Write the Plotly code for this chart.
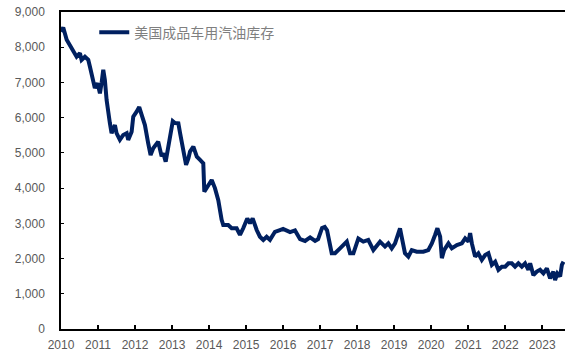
import plotly.graph_objects as go

# US motor gasoline (finished) inventory, read at turning points
dates = [
    "2010-01-01", "2010-01-23", "2010-02-26", "2010-03-30", "2010-05-01", "2010-06-04",
    "2010-07-07", "2010-07-23", "2010-08-25", "2010-09-27", "2010-10-13", "2010-11-15",
    "2010-12-01", "2010-12-28", "2011-01-20", "2011-02-06", "2011-02-22", "2011-03-10",
    "2011-03-27", "2011-04-28", "2011-05-15", "2011-06-17", "2011-07-03", "2011-08-05",
    "2011-09-07", "2011-10-11", "2011-10-26", "2011-11-29", "2011-12-15", "2012-01-17",
    "2012-02-12", "2012-03-07", "2012-04-08", "2012-05-10", "2012-06-03", "2012-06-29",
    "2012-08-01", "2012-08-17", "2012-09-20", "2012-10-06", "2012-10-30", "2012-11-24",
    "2012-12-18", "2013-01-08", "2013-01-30", "2013-03-04", "2013-03-21", "2013-04-22",
    "2013-05-19", "2013-06-11", "2013-06-27", "2013-07-30", "2013-09-02", "2013-10-04",
    "2013-11-05", "2013-11-15", "2013-12-24", "2014-01-27", "2014-02-28", "2014-04-02",
    "2014-05-05", "2014-05-21", "2014-07-09", "2014-08-12", "2014-09-30", "2014-11-02",
    "2014-12-04", "2015-01-13", "2015-02-09", "2015-03-07", "2015-04-16", "2015-05-18",
    "2015-06-20", "2015-07-23", "2015-08-25", "2015-10-13", "2015-12-01", "2016-01-01",
    "2016-03-10", "2016-04-28", "2016-06-17", "2016-08-05", "2016-09-24", "2016-11-12",
    "2016-12-12", "2017-01-20", "2017-02-15", "2017-03-10", "2017-04-25", "2017-05-28",
    "2017-07-16", "2017-09-21", "2017-10-23", "2017-11-25", "2018-01-13", "2018-03-03",
    "2018-04-21", "2018-06-10", "2018-08-15", "2018-10-03", "2018-11-05", "2018-12-08",
    "2019-01-10", "2019-02-12", "2019-02-28", "2019-03-16", "2019-04-18", "2019-05-21",
    "2019-06-24", "2019-08-12", "2019-10-16", "2019-12-04", "2020-01-08", "2020-02-09",
    "2020-03-03", "2020-03-30", "2020-04-16", "2020-05-08", "2020-06-20", "2020-07-23",
    "2020-09-11", "2020-10-30", "2020-12-02", "2021-01-04", "2021-01-20", "2021-02-06",
    "2021-03-10", "2021-04-11", "2021-05-15", "2021-06-17", "2021-07-19", "2021-08-22",
    "2021-09-24", "2021-10-26", "2021-11-29", "2022-01-01", "2022-02-02", "2022-03-07",
    "2022-04-08", "2022-05-11", "2022-06-14", "2022-07-16", "2022-08-18", "2022-09-04",
    "2022-10-06", "2022-11-09", "2022-12-11", "2023-01-13", "2023-02-16", "2023-03-20",
    "2023-04-21", "2023-05-08", "2023-05-31", "2023-06-27", "2023-07-14", "2023-07-30",
]
inventory = [
    8440, 8560, 8210, 8070, 7920, 7730,
    7830, 7640, 7730, 7640, 7450, 7070,
    6840, 6980, 6690, 7000, 7360, 7070,
    6500, 5850, 5560, 5790, 5560, 5370,
    5510, 5560, 5370, 5600, 6030, 6170,
    6300, 6080, 5790, 5280, 4940, 5130,
    5270, 5320, 4900, 4990, 4750, 5130,
    5510, 5900, 5850, 5840, 5560, 5080,
    4660, 4840, 5035, 5180, 4895, 4800,
    4705, 3900, 4090, 4230, 4000, 3660,
    3100, 2950, 2950, 2860, 2860, 2670,
    2860, 3140, 3000, 3140, 2810, 2620,
    2530, 2620, 2530, 2760, 2810, 2840,
    2750, 2800, 2550, 2500, 2600, 2500,
    2550, 2870, 2900, 2800, 2150, 2150,
    2290, 2480, 2150, 2150, 2570, 2480,
    2530, 2240, 2480, 2340, 2430, 2290,
    2430, 2720, 2860, 2620, 2150, 2055,
    2240, 2195, 2195, 2240, 2430, 2670,
    2860, 2620, 2010, 2240, 2430, 2290,
    2385, 2430, 2575, 2480, 2720, 2430,
    2055, 2150, 1960, 2100, 2150, 1820,
    1910, 1680, 1770, 1770, 1865, 1865,
    1770, 1865, 1770, 1865, 1680, 1865,
    1530, 1630, 1680, 1580, 1720, 1440,
    1630, 1390, 1580, 1490, 1820, 1910,
]

series_name = "美国成品车用汽油库存"
year_ticks = [f"{y}-01-01" for y in range(2010, 2024)]
year_labels = [str(y) for y in range(2010, 2024)]
y_ticks = list(range(0, 9001, 1000))
y_labels = [f"{v:,}" for v in y_ticks]

fig = go.Figure()
fig.add_trace(go.Scatter(
    x=dates, y=inventory, mode="lines", name=series_name,
    line=dict(color="#002060", width=4),
))

tick_font = dict(family="Liberation Sans, Arial, sans-serif", size=12, color="#595959")

fig.update_layout(
    width=565, height=353,
    margin=dict(l=61, r=0, t=12, b=24),
    paper_bgcolor="white", plot_bgcolor="white",
    showlegend=True,
    legend=dict(
        x=0.066, y=0.985, xanchor="left", yanchor="top",
        bgcolor="rgba(0,0,0,0)", borderwidth=0,
        font=dict(family="Noto Sans CJK SC", size=14, color="#7f7f7f"),
    ),
    xaxis=dict(
        type="date", range=["2010-01-01", "2023-08-14"],
        tickvals=year_ticks, ticktext=year_labels,
        showgrid=False, zeroline=False,
        showline=True, linecolor="black", linewidth=1.5, mirror=True,
        ticks="inside", ticklen=4, tickcolor="black", tickwidth=1.5,
        tickfont=tick_font, ticklabelstandoff=4,
    ),
    yaxis=dict(
        range=[0, 9000], tickvals=y_ticks, ticktext=y_labels,
        showgrid=False, zeroline=False,
        showline=True, linecolor="black", linewidth=1.5,
        ticks="inside", ticklen=3, tickcolor="black", tickwidth=1,
        tickfont=tick_font, ticklabelstandoff=12,
    ),
)

fig.write_html("out.html")
